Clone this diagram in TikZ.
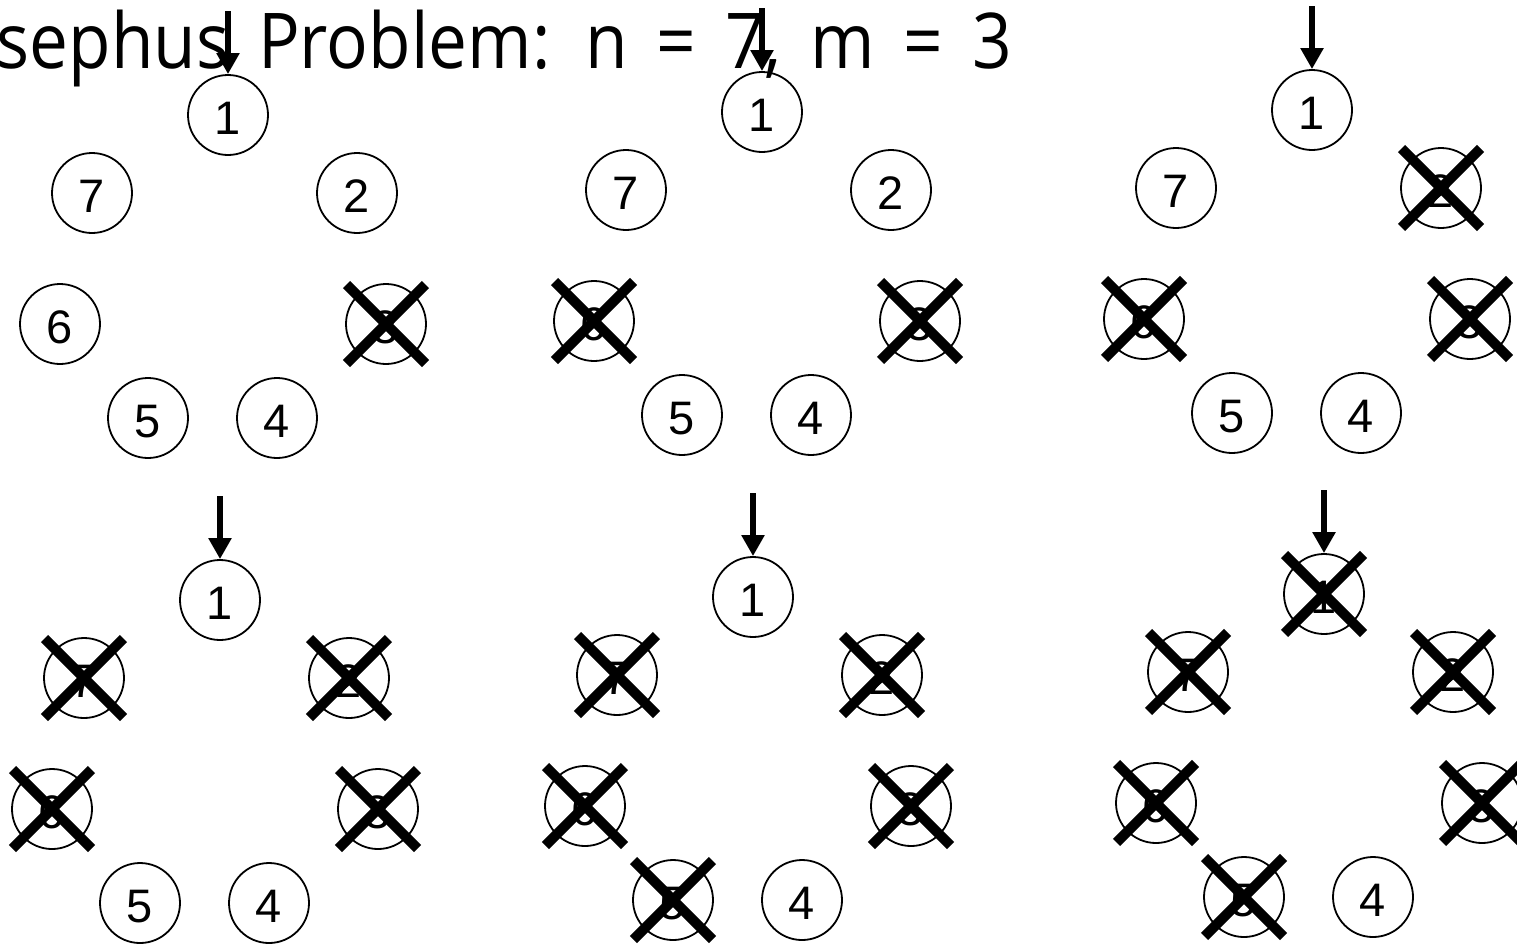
\documentclass[tikz,border=0pt]{standalone}
\usepackage{fontspec}
\setmainfont{Liberation Sans}
\newfontfamily\titlefont[FakeStretch=0.9,WordSpace=1.6]{Open Sans}
\usetikzlibrary{arrows.meta}
\begin{document}
\begin{tikzpicture}[x=1pt,y=-1pt,
  person/.style={circle,draw,line width=1.8pt,minimum size=80pt,inner sep=0pt,
    text height=38pt,text depth=0pt,font=\fontsize{47}{47}\selectfont},
  xmark/.style={line width=10pt},
  pointer/.style={line width=6.5pt,-{Triangle[length=21pt,width=22pt]}},
  titletext/.style={anchor=base east,inner sep=0pt,font=\titlefont\fontsize{77}{77}\selectfont}]
\useasboundingbox (0,0) rectangle (1517,943);
\node[titletext] (title) at (1012,68) {Josephus Problem: n = 7, m = 3};
\foreach \p/\dx/\dy/\crossed in {1/0/0/{3}, 2/534/-3/{3,6}, 3/1084/-5/{2,3,6},
    4/-8/485/{2,3,6,7}, 5/525/482/{2,3,5,6,7}, 6/1096/479/{1,2,3,5,6,7}} {
  \foreach \k/\x/\y in {1/228/115, 2/357/193, 3/386/324, 4/277/418,
      5/148/418, 6/60/324, 7/92/193} {
    \node[person] (p\p-\k) at (\x+\dx,\y+\dy) {\k};
  }
  \coordinate (p\p-a) at ([yshift=63pt]p\p-1.north);
  \draw[pointer] (p\p-a) -- (p\p-1);
  \foreach \k in \crossed {
    \draw[xmark] ([shift={(-39.5,-39.5)}]p\p-\k.center) -- ([shift={(39.5,39.5)}]p\p-\k.center);
    \draw[xmark] ([shift={(-39.5,39.5)}]p\p-\k.center) -- ([shift={(39.5,-39.5)}]p\p-\k.center);
  }
}
\end{tikzpicture}
\end{document}
